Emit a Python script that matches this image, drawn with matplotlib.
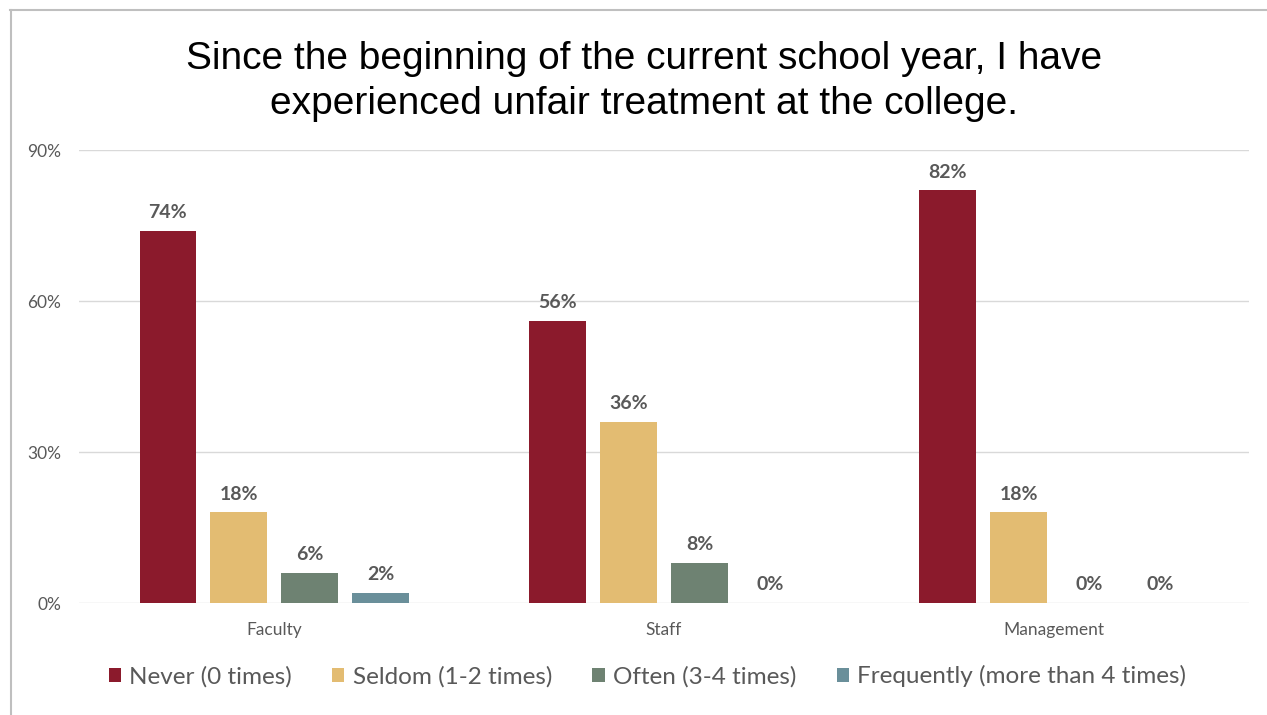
import matplotlib
matplotlib.use("Agg")
import matplotlib.pyplot as plt
from matplotlib.lines import Line2D
from matplotlib.patches import Patch
import numpy as np

# Survey data
categories = ["Faculty", "Staff", "Management"]
series_names = ["Never (0 times)", "Seldom (1-2 times)", "Often (3-4 times)",
                "Frequently (more than 4 times)"]
never = [74, 56, 82]
seldom = [18, 36, 18]
often = [6, 8, 0]
frequently = [2, 0, 0]
y_ticks = [0, 30, 60, 90]
y_tick_labels = ["0%", "30%", "60%", "90%"]

series = [never, seldom, often, frequently]
colors = ["#8B1A2C", "#E3BC72", "#6E8272", "#6A8F9A"]

title = ("Since the beginning of the current school year, I have\n"
         "experienced unfair treatment at the college.")

fig = plt.figure(figsize=(12.67, 7.15), dpi=100)
fig.patch.set_facecolor("white")

ax = fig.add_axes([0.0624, 0.1566, 0.9234, 0.6336])
x = np.arange(len(categories))
width = 0.144
step = 0.182
offsets = (np.arange(len(series)) - 1.5) * step

label_font = "Lato"
for vals, off, col in zip(series, offsets, colors):
    bars = ax.bar(x + off, vals, width=width, color=col, zorder=3)
    for b, v in zip(bars, vals):
        ax.annotate(f"{v}%", (b.get_x() + b.get_width() / 2, v),
                    xytext=(0, 7), textcoords="offset points",
                    ha="center", va="bottom", fontsize=14, fontweight="bold",
                    color="#595959", family=label_font, clip_on=False)

ax.set_xlim(-0.5, len(categories) - 0.5)
ax.set_ylim(0, 90)
ax.set_yticks(y_ticks)
ax.set_yticklabels(y_tick_labels)
ax.set_xticks(x)
ax.set_xticklabels(categories)
ax.grid(axis="y", color="#D9D9D9", linewidth=1.0, zorder=0)
for s in ax.spines.values():
    s.set_visible(False)
ax.tick_params(axis="both", length=0, colors="#7F7F7F", labelsize=12.5)
ax.tick_params(axis="y", pad=13)
ax.tick_params(axis="x", pad=14)
for t in ax.get_xticklabels() + ax.get_yticklabels():
    t.set_family(label_font)
    t.set_color("#595959")

fig.text(0.508, 0.886, title, ha="center", va="center", fontsize=28,
         family="Liberation Sans", color="#000000", linespacing=1.3)

handles = [Patch(facecolor=c, edgecolor="none") for c in colors]
leg = fig.legend(handles, series_names, loc="center", bbox_to_anchor=(0.511, 0.054),
                 ncol=4, frameon=False, handlelength=0.5, handleheight=0.5,
                 handletextpad=0.35, columnspacing=1.65,
                 prop={"family": label_font, "size": 17.5})
for t in leg.get_texts():
    t.set_color("#595959")

# Outer frame lines
fig.add_artist(Line2D([10 / 1267, 1.0], [1 - 10 / 715, 1 - 10 / 715],
                      color="#BFBFBF", linewidth=1.5, transform=fig.transFigure))
fig.add_artist(Line2D([11 / 1267, 11 / 1267], [0, 1 - 10 / 715],
                      color="#BFBFBF", linewidth=1.5, transform=fig.transFigure))

fig.savefig("out.png", dpi=100, facecolor="white")
